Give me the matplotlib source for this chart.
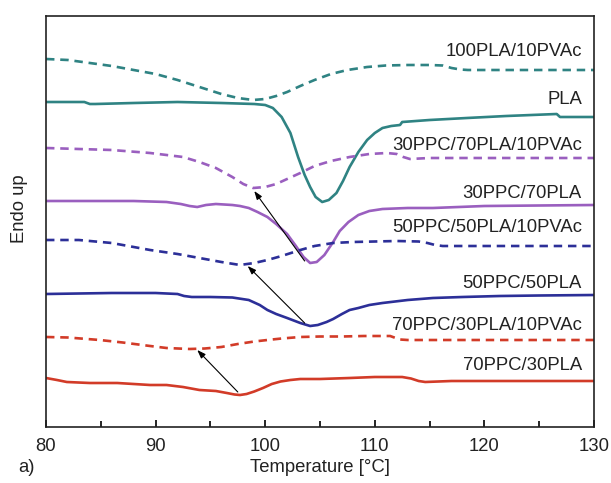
import matplotlib
matplotlib.use("Agg")
import matplotlib.pyplot as plt

plt.rcParams['font.family'] = ['Liberation Sans', 'DejaVu Sans']

# DSC heating traces (temperature in degC, heat flow in arbitrary offset units)
t_100pla_pvac = [80, 82, 84, 86, 88, 90, 92, 94, 96, 97.5, 98.9, 100, 101, 102, 103.2, 104.5, 106, 107.5,
                 109.3, 111, 113, 115, 116.2, 117, 117.8, 118.5, 122, 126, 130]
h_100pla_pvac = [368, 367, 364, 361, 357, 353, 347, 340, 333, 329, 327, 328, 331, 335, 341, 347, 353, 357,
                 360, 361.5, 362, 362, 361.5, 359, 357.5, 357, 357, 357, 357]

t_pla = [80, 83.5, 84, 84.5, 88, 92, 96, 99, 100, 100.7, 101.5, 102.3, 103, 103.6, 104.1, 104.6, 105.2,
         105.8, 106.5, 107.1, 107.7, 108.5, 109.3, 110, 110.7, 111.5, 112.3, 112.5, 115, 118.4, 122,
         126.6, 126.9, 130]
h_pla = [325, 325, 323, 323, 324, 325, 324, 323, 322, 319, 310, 294, 270, 252, 240, 230, 225,
         227, 234, 246, 260, 275, 287, 294, 299, 301, 302, 305, 307, 309, 311,
         313, 310, 310]

t_30_70_pvac = [80, 83, 86, 89.5, 91, 92.5, 94, 95.5, 97, 98, 98.9, 100, 101, 102, 103.2, 104.5, 106,
                107.7, 109.5, 111.1, 112, 112.6, 113.2, 115, 120, 130]
h_30_70_pvac = [279, 278, 277, 274, 272, 270, 265, 259, 250, 243, 239, 240, 243, 248, 254, 261, 266,
                270, 273, 274, 273, 270, 268, 269, 269, 269]

t_30_70 = [80, 88, 91, 92.3, 93.1, 93.8, 94.6, 95.5, 97, 97.7, 98.5, 99.3, 100.2, 101, 102, 102.8, 103.5,
           104.1, 104.7, 105.4, 106.2, 106.8, 107.6, 108.5, 109.5, 110.7, 113, 115.3, 120, 130]
h_30_70 = [226, 226, 225, 223, 221, 220, 222, 223, 222, 221, 219, 215, 210, 203, 193, 181, 170,
           164, 165, 172, 185, 196, 205, 212, 216, 218, 219, 219, 221, 222]

t_50_50_pvac = [80, 83, 86, 89.5, 92, 94, 96, 97.7, 99, 100.2, 101.5, 103.2, 104.5, 106.2, 108, 110, 112,
                114, 114.8, 115.5, 116.2, 118, 130]
h_50_50_pvac = [187, 187, 184, 177, 173, 169, 165, 162, 164, 167, 171, 177, 181, 184, 185, 185.5, 186,
                185.5, 184, 182, 181, 181, 181]

t_50_50 = [80, 86, 90, 92, 92.6, 93.3, 95, 97, 98.5, 99.5, 100.2, 101, 102, 103.2, 104.1, 104.8, 105.6,
           106.2, 107, 107.7, 108.5, 109.5, 110.7, 113, 115.3, 118, 121.4, 125, 130]
h_50_50 = [133, 134, 134, 133, 131, 130, 130, 129.5, 127, 122, 117, 113, 109, 104, 101, 102, 105,
           108, 113, 117, 119, 122, 124, 127, 129, 130, 131, 131.5, 132]

t_70_30_pvac = [80, 82, 84.9, 87, 89.5, 91, 93.1, 94.5, 96, 97.5, 99, 100.2, 101.5, 103.2, 105, 107, 109,
                111.4, 111.9, 112.3, 113, 115, 120, 130]
h_70_30_pvac = [90, 89.5, 87, 84.5, 81, 79, 78, 78.5, 80, 83, 85.5, 87, 88.5, 90, 90.5, 90.5, 91,
                91, 89, 87.5, 87, 87, 87, 87]

t_70_30 = [80, 81, 81.9, 84, 86.5, 88, 89.5, 91, 92.5, 94, 95.5, 96.5, 97.2, 97.7, 98.3, 99, 99.8, 100.6,
           101.4, 102.3, 103.2, 105, 107.7, 110, 112.5, 113.3, 114, 114.6, 117, 122, 130]
h_70_30 = [49, 47, 45, 44, 44, 43, 42, 42, 40, 37, 36, 34, 32.5, 32, 33, 35.5, 39, 43,
           45.5, 47, 48, 48, 49, 50, 50, 48.5, 46, 45, 46, 46, 46]

labels = ["100PLA/10PVAc", "PLA", "30PPC/70PLA/10PVAc", "30PPC/70PLA",
          "50PPC/50PLA/10PVAc", "50PPC/50PLA", "70PPC/30PLA/10PVAc", "70PPC/30PLA"]
label_y = [375, 327, 282, 234, 199, 144, 102, 62]

# arrows: (start temperature, start heat flow) -> (end temperature, end heat flow)
arrows = [((97.5, 35), (93.8, 77)),
          ((103.6, 104), (98.4, 161)),
          ((103.6, 166), (99.0, 236))]

teal = "#2f8383"
purple = "#9a5fbf"
blue = "#2c2f98"
red = "#d23b28"

fig = plt.figure(figsize=(6.11, 4.83), dpi=100)
ax = fig.add_axes([46 / 611, 56 / 483, 548 / 611, 411 / 483])

lw = 1.9
dash = (0, (3.2, 2.2))
series = [(t_100pla_pvac, h_100pla_pvac, teal, dash),
          (t_pla, h_pla, teal, "-"),
          (t_30_70_pvac, h_30_70_pvac, purple, dash),
          (t_30_70, h_30_70, purple, "-"),
          (t_50_50_pvac, h_50_50_pvac, blue, dash),
          (t_50_50, h_50_50, blue, "-"),
          (t_70_30_pvac, h_70_30_pvac, red, dash),
          (t_70_30, h_70_30, red, "-")]
for t, h, c, ls in series:
    ax.plot(t, h, color=c, lw=lw, linestyle=ls, solid_joinstyle="round",
            dash_joinstyle="round")

for (x0, y0), (x1, y1) in arrows:
    ax.annotate("", xy=(x1, y1), xytext=(x0, y0),
                arrowprops=dict(arrowstyle="-|>,head_length=0.5,head_width=0.18",
                                color="black", lw=0.8, shrinkA=0, shrinkB=0))

for lab, yy in zip(labels, label_y):
    ax.text(128.9, yy, lab, ha="right", va="center", fontsize=13.3, color="#222222")

ax.set_xlim(80, 130)
ax.set_ylim(0, 411)
ax.set_xticks([80, 90, 100, 110, 120, 130])
ax.set_xticks([85, 95, 105, 115, 125], minor=True)
ax.set_yticks([])
ax.tick_params(axis="x", which="both", direction="in", labelsize=13.3, pad=8, labelcolor="#222222")
ax.tick_params(axis="x", which="major", length=5, width=1.2)
ax.tick_params(axis="x", which="minor", length=4, width=1.2)
for s in ax.spines.values():
    s.set_linewidth(1.2)
    s.set_color("#222222")

ax.set_xlabel("Temperature [°C]", fontsize=13.3, labelpad=3, color="#222222")
ax.set_ylabel("Endo up", fontsize=13.3, color="#222222")
ax.yaxis.set_label_coords(-0.032, 0.53)
fig.text(18 / 611, 1 - 467 / 483, "a)", fontsize=13.3, va="center", ha="left", color="#222222")

fig.savefig("out.png", dpi=100)
